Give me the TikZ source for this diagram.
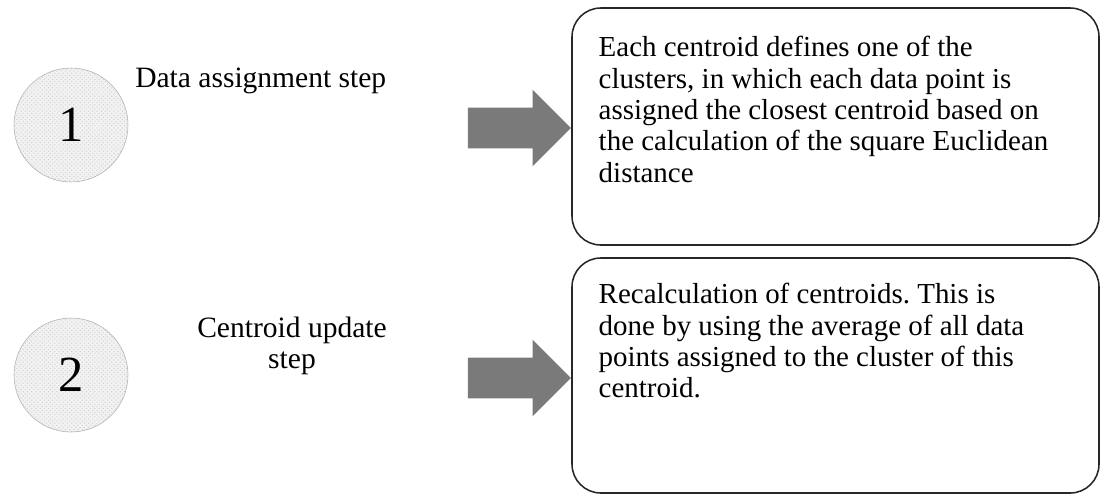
\documentclass[tikz,border=0pt]{standalone}
\usepackage{fontspec}
\setmainfont{Liberation Serif}
\usetikzlibrary{shapes.arrows,patterns}
\definecolor{arrowgray}{HTML}{7A7A7A}
\definecolor{discgray}{HTML}{F2F2F2}
\frenchspacing

\tikzset{
  stepdisc/.style={circle, draw=black!30, preaction={fill=discgray},
    pattern=crosshatch dots, pattern color=black!18,
    minimum size=114*0.025cm, inner sep=0pt, font=\fontsize{36}{40}\selectfont},
  steplabel/.style={font=\fontsize{21}{22}\selectfont, align=center, inner sep=0pt},
  infobox/.style={draw=black!85, line width=1.1pt, rounded corners=0.72cm, inner sep=0pt},
  infotext/.style={anchor=north west, align=left, inner sep=0pt,
    font=\fontsize{20.6}{22.3}\selectfont},
  blockarrow/.style={single arrow, fill=arrowgray, draw=none,
    inner xsep=0pt, inner ysep=0.5cm, minimum height=103*0.025cm,
    single arrow head extend=0.45cm, single arrow head indent=0pt}
}

\begin{document}
\begin{tikzpicture}[x=0.025cm,y=-0.025cm]
\useasboundingbox (0,0) rectangle (1101,495);

% step discs and their names
\node[stepdisc] (disc1) at (71,125) {1};
\node[stepdisc] (disc2) at (71,375) {2};
\node[steplabel, anchor=base west] (name1) at (135,87) {Data assignment step};
\node[steplabel, anchor=north] (name2) at (292,317) {Centroid update\\step};

% the two description boxes
\node[infobox, minimum width=527*0.025cm, minimum height=237*0.025cm] (box1) at (835.5,126.5) {};
\node[infobox, minimum width=527*0.025cm, minimum height=235*0.025cm] (box2) at (835.5,375.5) {};
\node[infotext] (text1) at ([xshift=0.68cm,yshift=-0.72cm]box1.north west)
  {Each centroid defines one of the\\ clusters, in which each data point is\\
   assigned the closest centroid based on\\ the calculation of the square Euclidean\\ distance};
\node[infotext] (text2) at ([xshift=0.68cm,yshift=-0.65cm]box2.north west)
  {Recalculation of centroids. This is\\ done by using the average of all data\\
   points assigned to the cluster of this\\ centroid.};

% block arrows pointing into the boxes
\node[blockarrow, anchor=tip] (arrow1) at (box1.west |- 0,128) {};
\node[blockarrow, anchor=tip] (arrow2) at (box2.west |- 0,378) {};
\end{tikzpicture}
\end{document}
